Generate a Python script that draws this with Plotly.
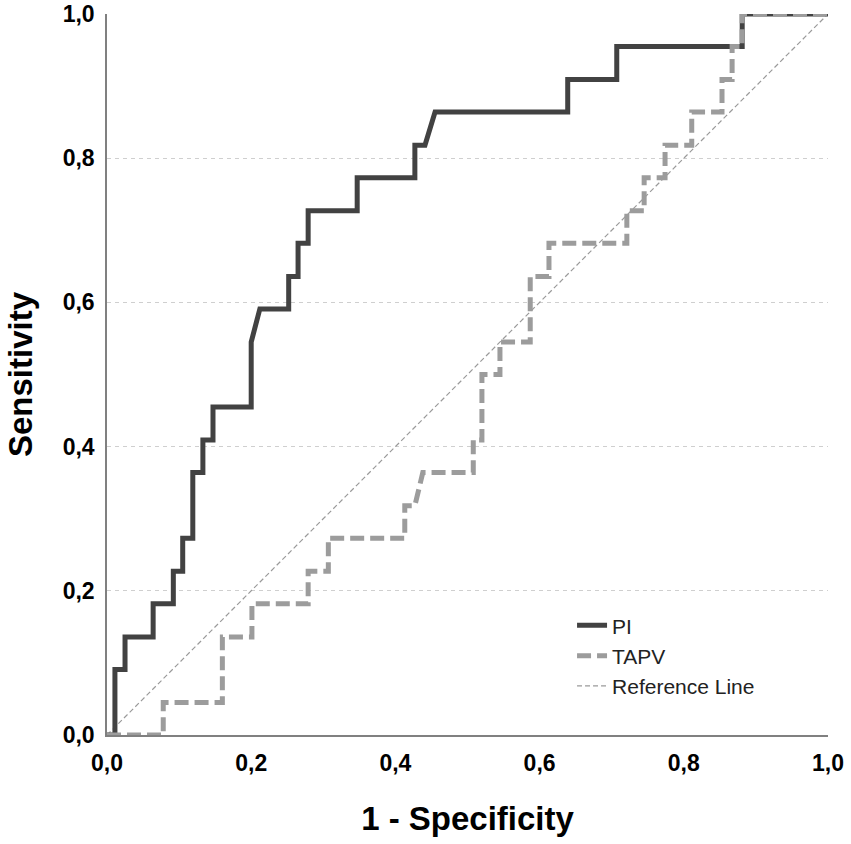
import plotly.graph_objects as go

# ROC curve vertices (1 - specificity, sensitivity)
pi_fpr = [0, 0.011, 0.011, 0.025, 0.025, 0.064, 0.064, 0.092, 0.092, 0.105, 0.105,
          0.119, 0.119, 0.133, 0.133, 0.147, 0.147, 0.200, 0.200, 0.212, 0.252, 0.252,
          0.265, 0.265, 0.279, 0.279, 0.347, 0.347, 0.427, 0.427, 0.441, 0.455, 0.639,
          0.639, 0.707, 0.707, 0.881, 0.881, 1.0]
pi_tpr = [0, 0, 0.091, 0.091, 0.136, 0.136, 0.182, 0.182, 0.227, 0.227, 0.273,
          0.273, 0.364, 0.364, 0.409, 0.409, 0.455, 0.455, 0.545, 0.591, 0.591, 0.636,
          0.636, 0.682, 0.682, 0.727, 0.727, 0.773, 0.773, 0.818, 0.818, 0.864, 0.864,
          0.909, 0.909, 0.955, 0.955, 1.0, 1.0]

tapv_fpr = [0, 0.078, 0.078, 0.160, 0.160, 0.201, 0.201, 0.279, 0.279, 0.307, 0.307,
            0.413, 0.413, 0.427, 0.438, 0.508, 0.508, 0.520, 0.520, 0.545, 0.545,
            0.587, 0.587, 0.613, 0.613, 0.721, 0.721, 0.745, 0.745, 0.774, 0.774,
            0.811, 0.811, 0.853, 0.853, 0.867, 0.867, 0.881, 0.881, 1.0]
tapv_tpr = [0, 0, 0.045, 0.045, 0.136, 0.136, 0.182, 0.182, 0.227, 0.227, 0.273,
            0.273, 0.318, 0.318, 0.364, 0.364, 0.409, 0.409, 0.5, 0.5, 0.545,
            0.545, 0.636, 0.636, 0.682, 0.682, 0.727, 0.727, 0.773, 0.773, 0.818,
            0.818, 0.864, 0.864, 0.909, 0.909, 0.955, 0.955, 1.0, 1.0]

ref_x = [0, 1]
ref_y = [0, 1]

font = "Liberation Sans, Arial, sans-serif"

fig = go.Figure()
fig.add_trace(go.Scatter(x=ref_x, y=ref_y, mode="lines", name="Reference Line",
                         line=dict(color="#9a9a9a", width=1.2, dash="5px,3px"),
                         legendrank=3))
fig.add_trace(go.Scatter(x=pi_fpr, y=pi_tpr, mode="lines", name="PI",
                         line=dict(color="#424242", width=5),
                         legendrank=1))
fig.add_trace(go.Scatter(x=tapv_fpr, y=tapv_tpr, mode="lines", name="TAPV",
                         line=dict(color="#9c9c9c", width=5, dash="14px,6px"),
                         legendrank=2))

fig.update_layout(
    width=851, height=844,
    margin=dict(l=107, r=23, t=14, b=109),
    plot_bgcolor="white", paper_bgcolor="white",
    separators=",.",
    font=dict(family=font, color="black"),
    showlegend=True,
    legend=dict(x=0.645, y=0.18, xanchor="left", yanchor="top",
                font=dict(size=21, color="#222"), bgcolor="rgba(0,0,0,0)",
                tracegroupgap=0),
)
fig.update_xaxes(range=[0, 1], tickvals=[0, 0.2, 0.4, 0.6, 0.8, 1.0], tickformat=".1f",
                 showgrid=False, zeroline=False, showline=True, linecolor="#808080",
                 linewidth=1.5, ticks="", ticklabelstandoff=7, automargin=False,
                 tickfont=dict(size=23, family=font, weight="bold"),
                 title=dict(text="<b>1 - Specificity</b>", font=dict(size=33), standoff=32))
fig.update_yaxes(range=[0, 1], tickvals=[0, 0.2, 0.4, 0.6, 0.8, 1.0], tickformat=".1f",
                 showgrid=True, gridcolor="#cfcfcf", griddash="4px,4px", gridwidth=1,
                 zeroline=False, showline=True, linecolor="#808080", linewidth=1.5,
                 ticks="", ticklabelstandoff=6, automargin=False,
                 tickfont=dict(size=23, family=font, weight="bold"),
                 title=dict(text="<b>Sensitivity</b>", font=dict(size=33), standoff=20))

# drop the default page margin so the figure fills the window
fig.write_html("out.html", config={"displayModeBar": False},
               post_script="document.body.style.margin = '0';")
